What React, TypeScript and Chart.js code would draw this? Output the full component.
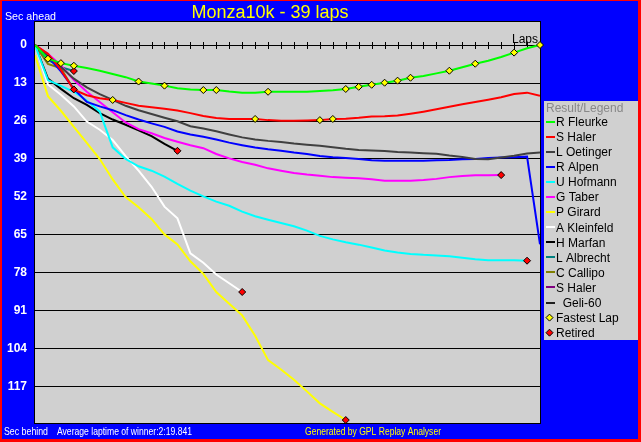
import { useEffect, useRef } from 'react';
import { Chart, registerables } from 'chart.js';

Chart.register(...registerables);

const FONT = '"Liberation Sans", Arial, sans-serif';

const chartTitle = 'Monza10k - 39 laps';
const totalLaps = 39;
const yTickValues = [0, 13, 26, 39, 52, 65, 78, 91, 104, 117];

const driverNames = [
  'R Fleurke', 'S Haler', 'L Oetinger', 'R Alpen', 'U Hofmann', 'G Taber', 'P Girard',
  'A Kleinfeld', 'H Marfan', 'L Albrecht', 'C Callipo', 'S Haler', '  Geli-60',
];
const driverColors = [
  '#00ff00', '#ff0000', '#404040', '#0000ff', '#00ffff', '#ff00ff', '#ffff00',
  '#ffffff', '#000000', '#008080', '#808000', '#800080', '#202020',
];

// seconds behind (winner's average pace), one value per lap starting at lap 0
const fleurke = [0, 4.7, 6.2, 7.1, 7.9, 8.8, 9.9, 11.0, 12.5, 13.2, 13.9, 14.8, 15.2, 15.4, 15.4, 15.9, 16.3, 16.3, 16.0, 16.0, 16.0, 16.0, 15.7, 15.5, 15.05, 14.3, 13.6, 12.9, 12.2, 11.2, 10.6, 9.7, 8.8, 7.6, 6.4, 5.4, 4.1, 2.6, 1.1, 0];
const haler = [0, 3.0, 8.5, 15.3, 17.2, 18.2, 18.8, 19.8, 20.8, 21.3, 21.8, 22.4, 23.3, 24.3, 25.0, 25.3, 25.3, 25.3, 25.7, 25.9, 25.9, 25.8, 25.7, 25.3, 25.2, 24.9, 24.5, 24.4, 24.1, 23.5, 22.8, 22.0, 21.1, 20.3, 19.5, 18.7, 17.9, 16.8, 16.3, 17.4];
const oetinger = [0, 3.5, 7.5, 11.5, 14.5, 16.8, 18.8, 20.8, 22.3, 23.6, 24.9, 26.1, 27.8, 28.6, 29.5, 30.6, 31.6, 32.3, 32.8, 33.2, 33.7, 34.1, 34.5, 35.0, 35.5, 35.9, 36.1, 36.3, 36.6, 36.8, 37.0, 37.2, 37.8, 38.3, 39.0, 39.1, 38.5, 37.9, 37.1, 36.8];
const alpen = [0, 4.0, 9.0, 15.0, 19.5, 21.0, 22.3, 24.0, 25.5, 26.8, 28.0, 29.6, 30.6, 31.4, 32.3, 33.4, 34.3, 35.1, 35.7, 36.2, 36.8, 37.3, 38.0, 38.4, 38.7, 39.0, 39.4, 39.6, 39.6, 39.6, 39.6, 39.4, 39.3, 39.1, 39.0, 38.7, 38.5, 38.4, 38.2, 68.2];
const hofmann = [0, 12.0, 14.0, 16.0, 19.0, 22.8, 35.0, 39.0, 41.5, 43.0, 45.0, 47.5, 49.8, 51.8, 53.6, 55.0, 57.0, 58.6, 59.8, 60.9, 62.0, 63.5, 65.3, 66.5, 67.5, 68.3, 69.3, 70.3, 71.0, 71.5, 71.8, 72.0, 72.3, 72.8, 73.3, 73.6, 73.6, 73.6, 73.8];
const taber = [0, 3.0, 7.0, 12.0, 16.0, 19.5, 23.0, 26.5, 28.8, 30.2, 31.8, 33.1, 34.3, 35.3, 37.3, 38.8, 40.0, 41.0, 42.2, 43.0, 43.8, 44.3, 44.7, 45.2, 45.4, 45.6, 45.9, 46.4, 46.4, 46.4, 46.2, 45.8, 45.2, 44.8, 44.6, 44.6, 44.5];
const girard = [3.5, 17.5, 22.5, 28.0, 33.5, 39.0, 46.0, 52.0, 55.5, 59.5, 64.8, 68.2, 74.0, 78.3, 84.5, 88.5, 92.5, 99.5, 107.8, 111.0, 114.5, 118.5, 122.6, 125.5, 128.3];
const kleinfeld = [0, 13.5, 17.0, 21.0, 26.2, 29.0, 32.5, 38.0, 43.0, 48.5, 55.3, 59.3, 71.3, 74.5, 78.5, 81.5, 84.5];
const marfan = [0, 11.5, 15.0, 18.2, 20.5, 23.3, 25.5, 27.3, 29.2, 31.2, 33.8, 36.2];
const albrecht = [0, 5.0, 7.6, 8.9];
const callipo = [0, 6.5, 8.0, 15.2];
const haler2: number[] = [];
const geli: number[] = [];

const driverSeries = [fleurke, haler, oetinger, alpen, hofmann, taber, girard, kleinfeld, marfan, albrecht, callipo, haler2, geli];

// [driver index, lap] where a fastest lap was set
const fastestLaps: [number, number][] = [
  [0, 1], [0, 2], [0, 3], [1, 6], [0, 8], [0, 10], [0, 13], [0, 14], [1, 17], [0, 18],
  [1, 22], [1, 23], [0, 24], [0, 25], [0, 26], [0, 27], [0, 28], [0, 29], [0, 32], [0, 34], [0, 37], [0, 39],
];
// drivers that retired (marker on their last lap)
const retiredDrivers = [9, 10, 8, 7, 6, 5, 4];

const framePlugin = {
  id: 'gplFrame',
  beforeDraw(chart: any) {
    const { ctx, width, height, chartArea: a } = chart;
    ctx.save();
    ctx.fillStyle = '#ff0000';
    ctx.fillRect(0, 0, width, height);
    ctx.fillStyle = '#0000ff';
    ctx.fillRect(2, 1, width - 5, height - 4);
    ctx.fillStyle = '#d0d0d0';
    ctx.fillRect(a.left, a.top, a.right - a.left, a.bottom - a.top);
    ctx.restore();
  },
  beforeDatasetsDraw(chart: any) {
    const { ctx, chartArea: a, scales } = chart;
    const x = scales.x;
    const y0 = Math.round(scales.y.getPixelForValue(0)) + 0.5;
    ctx.save();
    ctx.strokeStyle = '#000000';
    ctx.lineWidth = 1;
    ctx.beginPath();
    for (let lap = 1; lap < totalLaps; lap++) {
      const px = Math.round(x.getPixelForValue(lap)) + 0.5;
      ctx.moveTo(px, y0 - 3.5);
      ctx.lineTo(px, y0 + 3.5);
    }
    ctx.stroke();
    ctx.strokeRect(a.left - 0.5, a.top - 0.5, a.right - a.left + 1, a.bottom - a.top + 1);
    ctx.restore();
  },
  afterDraw(chart: any) {
    const { ctx, chartArea: a, width, height } = chart;
    ctx.save();
    ctx.textBaseline = 'alphabetic';
    ctx.textAlign = 'left';
    ctx.font = `11px ${FONT}`;
    ctx.fillStyle = '#ffffff';
    ctx.fillText('Sec ahead', 5, 20, 51);
    ctx.fillText('Sec behind', 4, height - 7, 44);
    ctx.fillText('Average laptime of winner:2:19.841', 57, height - 7, 135);
    ctx.fillStyle = '#ffff00';
    ctx.fillText('Generated by GPL Replay Analyser', 305, height - 7, 136);
    ctx.fillStyle = '#000000';
    ctx.font = `12px ${FONT}`;
    ctx.textAlign = 'right';
    ctx.fillText('Laps', a.right - 2, chart.scales.y.getPixelForValue(0) - 2);

    // legend box
    const lx = a.right + 4;
    const ly = 101;
    const lw = width - 3 - lx;
    const lh = 239;
    ctx.fillStyle = '#d0d0d0';
    ctx.fillRect(lx, ly, lw, lh);
    ctx.textAlign = 'left';
    ctx.fillStyle = '#888888';
    ctx.fillText('Result/Legend', lx + 2, ly + 11, 80);
    const rowH = 15.07;
    const firstRow = ly + 20.7;
    ctx.textBaseline = 'middle';
    driverNames.forEach((name, i) => {
      const cy = firstRow + i * rowH;
      ctx.strokeStyle = driverColors[i];
      ctx.lineWidth = 2;
      ctx.beginPath();
      ctx.moveTo(lx + 2, Math.round(cy));
      ctx.lineTo(lx + 11, Math.round(cy));
      ctx.stroke();
      ctx.fillStyle = '#000000';
      ctx.fillText(name, lx + 12, cy + 1);
    });
    const extra = [
      { label: 'Fastest Lap', color: '#ffff00' },
      { label: 'Retired', color: '#ff0000' },
    ];
    extra.forEach((e, j) => {
      const cy = firstRow + (driverNames.length + j) * rowH;
      const cx = lx + 5.5;
      ctx.beginPath();
      ctx.moveTo(cx, cy - 3.5);
      ctx.lineTo(cx + 3.5, cy);
      ctx.lineTo(cx, cy + 3.5);
      ctx.lineTo(cx - 3.5, cy);
      ctx.closePath();
      ctx.fillStyle = e.color;
      ctx.fill();
      ctx.strokeStyle = '#000000';
      ctx.lineWidth = 1;
      ctx.stroke();
      ctx.fillStyle = '#000000';
      ctx.fillText(e.label, lx + 12, cy + 1);
    });
    ctx.restore();
  },
};

export default function App() {
  const canvasRef = useRef<HTMLCanvasElement | null>(null);

  useEffect(() => {
    const canvas = canvasRef.current;
    if (!canvas) return;

    const lineSets = driverSeries.map((series, i) => ({
      type: 'line' as const,
      label: driverNames[i],
      data: series.map((v, lap) => ({ x: lap, y: v })),
      borderColor: driverColors[i],
      backgroundColor: driverColors[i],
      borderWidth: 2,
      pointRadius: 0,
      tension: 0,
      fill: false,
      order: 1,
    }));

    const fastestSet = {
      type: 'line' as const,
      label: 'Fastest Lap',
      data: fastestLaps.map(([d, lap]) => ({ x: lap, y: driverSeries[d][lap] })),
      showLine: false,
      pointStyle: 'rectRot' as const,
      pointRadius: 3.5,
      pointBackgroundColor: '#ffff00',
      pointBorderColor: '#000000',
      pointBorderWidth: 1,
      clip: false as const,
      order: 0,
    };

    const retiredSet = {
      type: 'line' as const,
      label: 'Retired',
      data: retiredDrivers.map((d) => {
        const s = driverSeries[d];
        return { x: s.length - 1, y: s[s.length - 1] };
      }),
      showLine: false,
      pointStyle: 'rectRot' as const,
      pointRadius: 3.5,
      pointBackgroundColor: '#ff0000',
      pointBorderColor: '#000000',
      pointBorderWidth: 1,
      clip: false as const,
      order: 0,
    };

    const chart = new Chart(canvas, {
      type: 'line',
      data: { datasets: [...lineSets, fastestSet, retiredSet] as any },
      options: {
        animation: false,
        responsive: false,
        devicePixelRatio: 1,
        events: [],
        layout: { padding: { top: 0, right: 101, bottom: 19, left: 0 } },
        plugins: {
          legend: { display: false },
          tooltip: { enabled: false },
          title: {
            display: true,
            text: chartTitle,
            color: '#ffff00',
            font: { family: FONT, size: 18, weight: 'normal', lineHeight: 1 },
            padding: { top: 4, bottom: 0 },
          },
        },
        scales: {
          x: {
            type: 'linear',
            display: false,
            min: 0,
            max: totalLaps,
          },
          y: {
            type: 'linear',
            reverse: true,
            min: -7.87,
            max: 129.32,
            afterFit: (s: any) => {
              s.width = 35;
            },
            afterBuildTicks: (s: any) => {
              s.ticks = yTickValues.map((v) => ({ value: v }));
            },
            border: { display: false },
            grid: { color: '#000000', lineWidth: 1, drawTicks: false },
            ticks: {
              color: '#ffffff',
              padding: 8,
              font: { family: FONT, size: 12, weight: 'bold' },
              callback: (v: any) => String(v),
            },
          },
        },
      },
      plugins: [framePlugin],
    });

    return () => chart.destroy();
  }, []);

  return (
    <div style={{ position: 'fixed', left: 0, top: 0, width: 641, height: 442 }}>
      <canvas ref={canvasRef} width={641} height={442} style={{ display: 'block' }} />
    </div>
  );
}
